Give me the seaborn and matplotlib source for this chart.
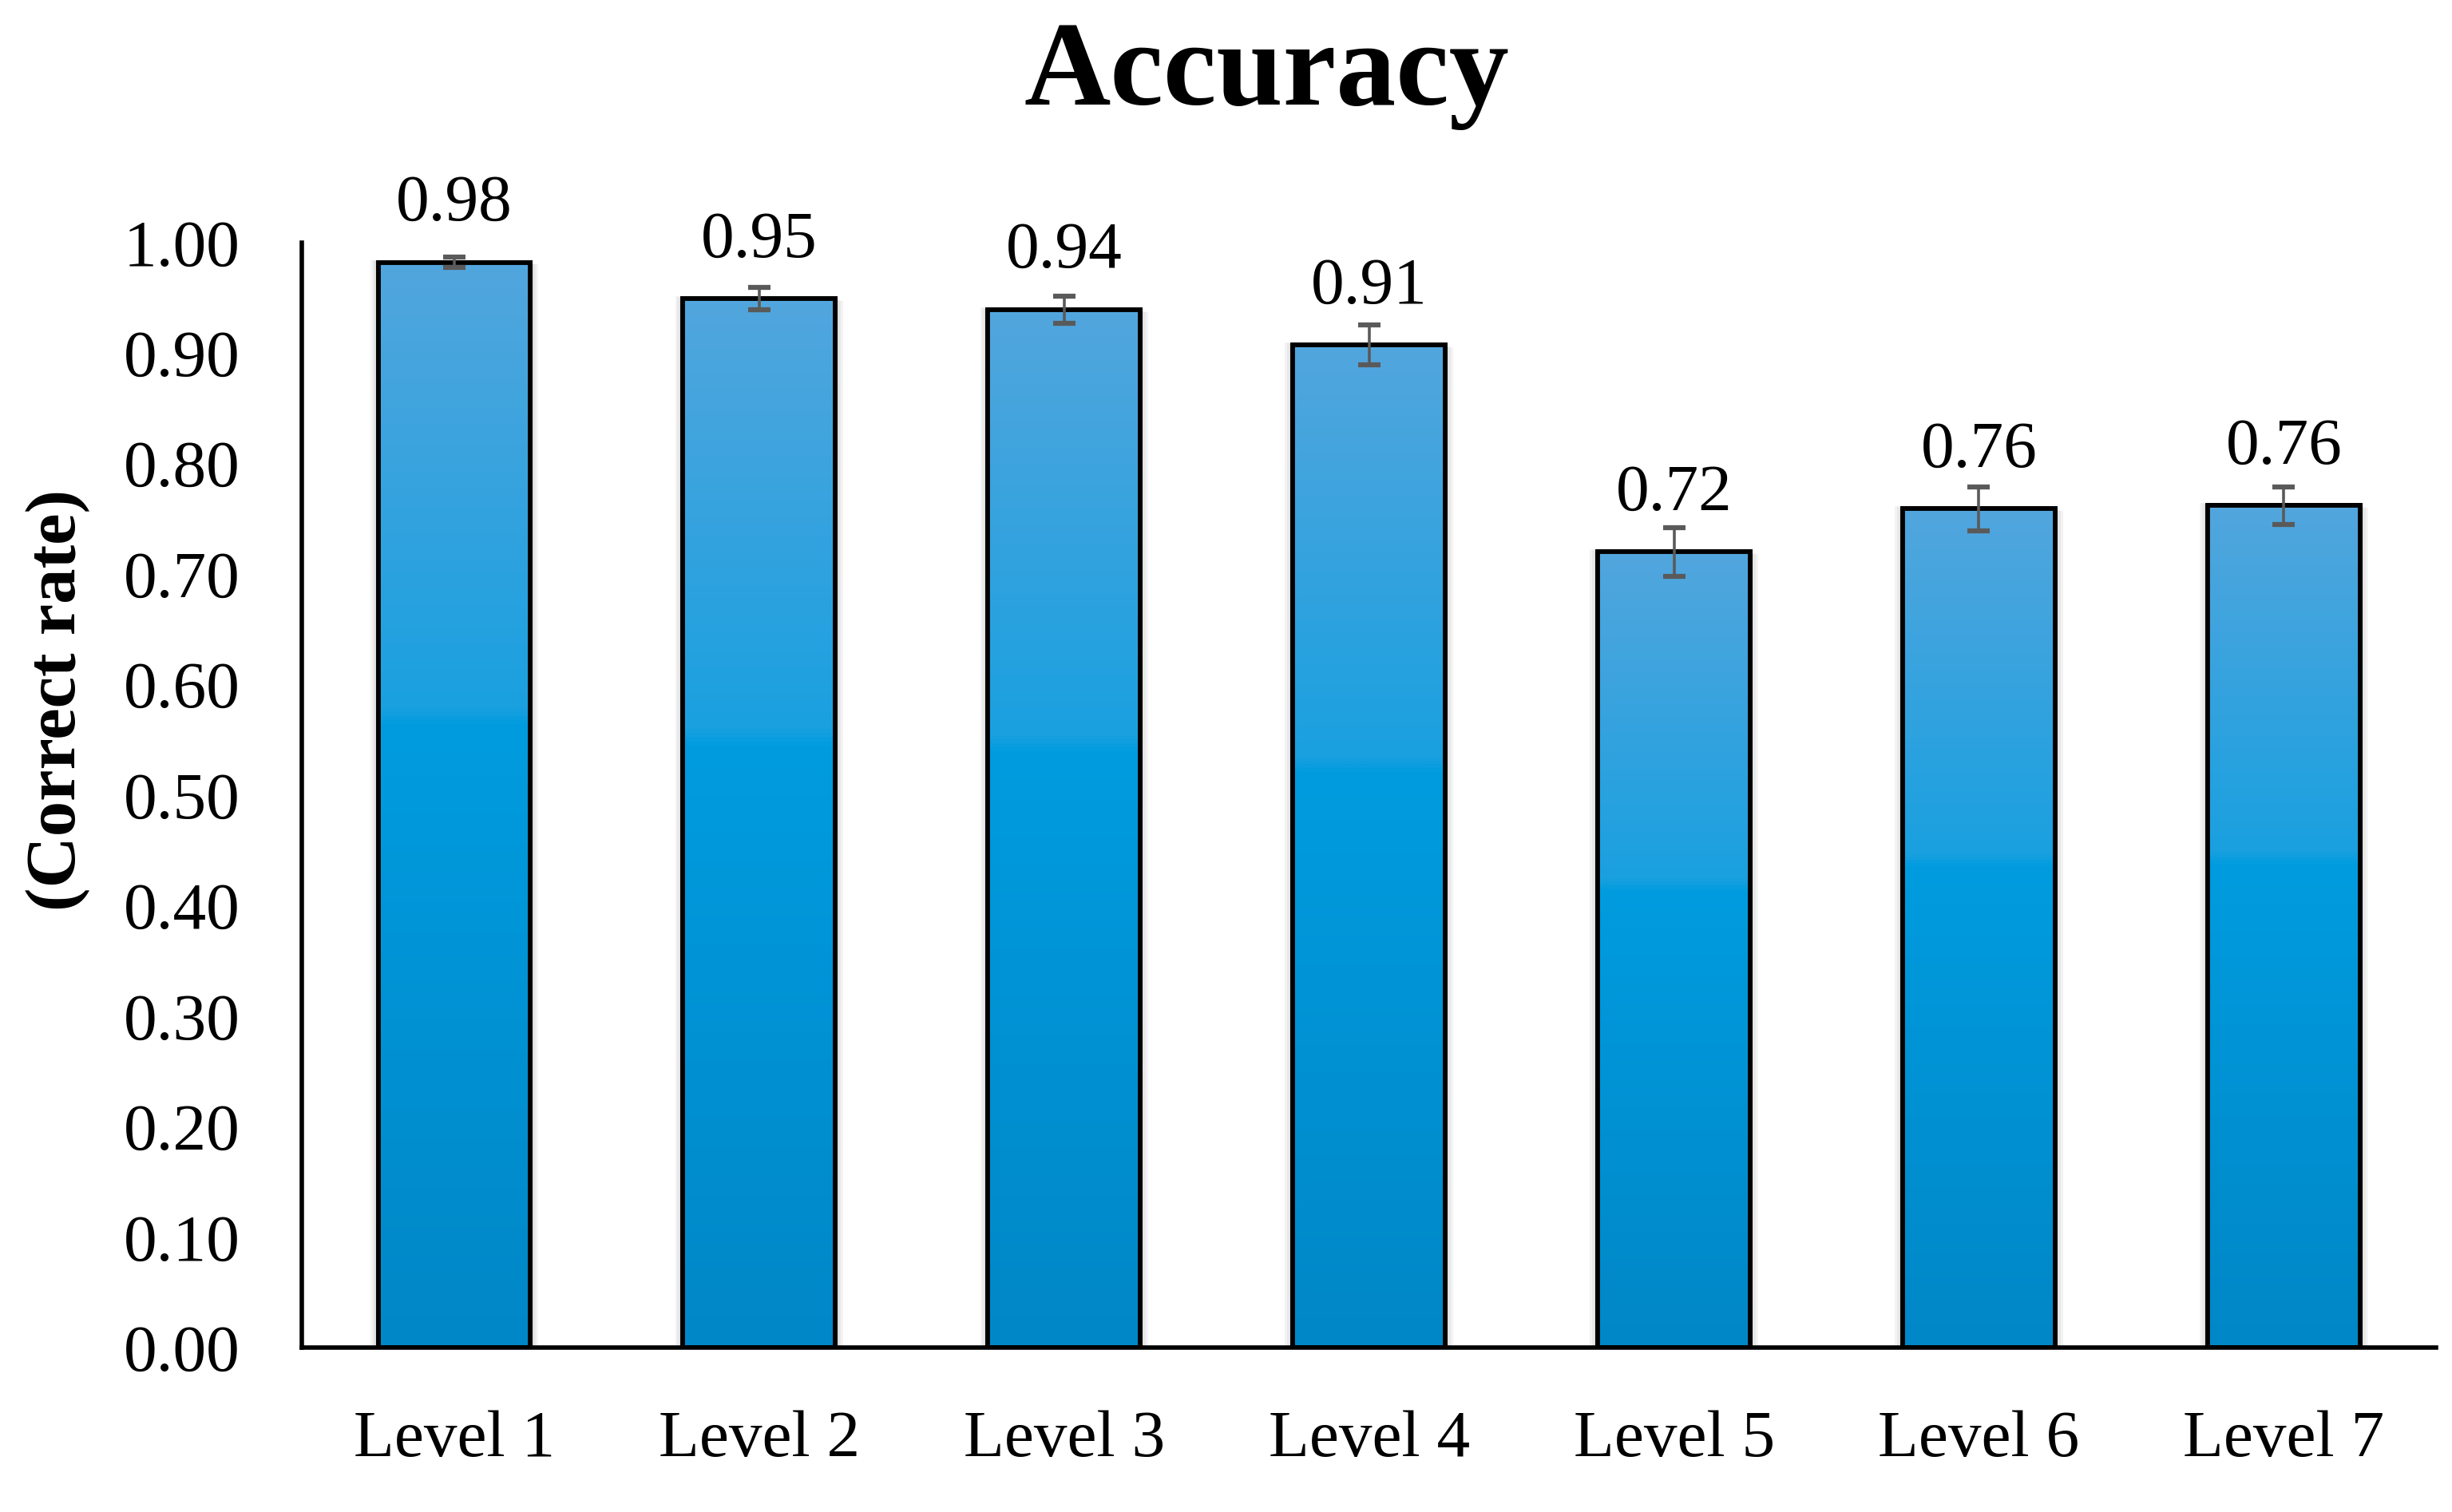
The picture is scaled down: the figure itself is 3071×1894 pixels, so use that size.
import numpy as np
import pandas as pd
import matplotlib
matplotlib.use("Agg")
import matplotlib.pyplot as plt
import seaborn as sns
from matplotlib.colors import LinearSegmentedColormap
import matplotlib.patheffects as pe

# ---- data ----
levels = ["Level 1", "Level 2", "Level 3", "Level 4", "Level 5", "Level 6", "Level 7"]
accuracy = [0.982, 0.949, 0.939, 0.907, 0.720, 0.759, 0.762]
errors = [0.005, 0.010, 0.012, 0.018, 0.022, 0.020, 0.017]
value_labels = ["0.98", "0.95", "0.94", "0.91", "0.72", "0.76", "0.76"]
y_ticks = [0.0, 0.1, 0.2, 0.3, 0.4, 0.5, 0.6, 0.7, 0.8, 0.9, 1.0]
y_tick_labels = ["0.00", "0.10", "0.20", "0.30", "0.40", "0.50", "0.60", "0.70", "0.80", "0.90", "1.00"]

sns.set_theme(style="white")
plt.rcParams['font.family'] = ['Liberation Serif', 'DejaVu Serif']

fig = plt.figure(figsize=(30.71, 18.94), dpi=100)
ax = fig.add_axes([0.1231, 0.1086, 0.8705, 0.7311])

df = pd.DataFrame({"level": levels, "acc": accuracy})
sns.barplot(data=df, x="level", y="acc", ax=ax, color="#1E9BDD", width=0.5,
            edgecolor="black", linewidth=4.2, errorbar=None)

cmap = LinearSegmentedColormap.from_list(
    "bargrad",
    [(0.0, "#0087C7"), (0.575, "#009CDF"), (0.59, "#1AA0E0"), (1.0, "#52A6DD")])
grad = np.linspace(0, 1, 256).reshape(-1, 1)

shadow_fx = [pe.SimplePatchShadow(offset=(o, -o * 0.3), shadow_rgbFace="0.35", alpha=0.07)
             for o in (7, 5, 3, -3, -5, -7)] + [pe.Normal()]

for patch in ax.patches:
    x0 = patch.get_x()
    w = patch.get_width()
    h = patch.get_height()
    z = patch.get_zorder()
    patch.set_path_effects(shadow_fx)
    im = ax.imshow(grad, cmap=cmap, origin="lower", aspect="auto",
                   extent=(x0, x0 + w, 0, h), zorder=z + 0.05, interpolation="bicubic")
    im.set_clip_path(patch)
    ax.add_patch(plt.Rectangle((x0, 0), w, h, fill=False, edgecolor="black",
                               linewidth=4.2, zorder=z + 0.1))

ax.errorbar(x=np.arange(len(levels)), y=accuracy, yerr=errors, fmt="none",
            ecolor="#5A5A5A", elinewidth=2.6, capsize=10, capthick=4.5, zorder=5)

for i, (v, lab) in enumerate(zip(accuracy, value_labels)):
    ax.annotate(lab, xy=(i, v), xytext=(0, 38), textcoords="offset points",
                ha="center", va="baseline", fontsize=60, color="black")

ax.set_xlim(-0.5, len(levels) - 0.5)
ax.set_ylim(0, 1.0)
ax.set_yticks(y_ticks)
ax.set_yticklabels(y_tick_labels)
ax.tick_params(axis="both", length=0, labelsize=60, colors="black")
ax.tick_params(axis="y", pad=56)
ax.tick_params(axis="x", pad=56)
ax.set_xlabel("")
ax.set_ylabel("(Correct rate)", fontsize=64, fontweight="bold", color="black")
ax.yaxis.set_label_coords(-0.099, 0.586)

for s in ["top", "right"]:
    ax.spines[s].set_visible(False)
for s in ["left", "bottom"]:
    ax.spines[s].set_color("black")
    ax.spines[s].set_linewidth(4.0)
ax.grid(False)

fig.text(0.5166, 0.950, "Accuracy", ha="center", va="center",
         fontsize=108, fontweight="bold", color="black")

fig.savefig("out.png", dpi=100, facecolor="white")
